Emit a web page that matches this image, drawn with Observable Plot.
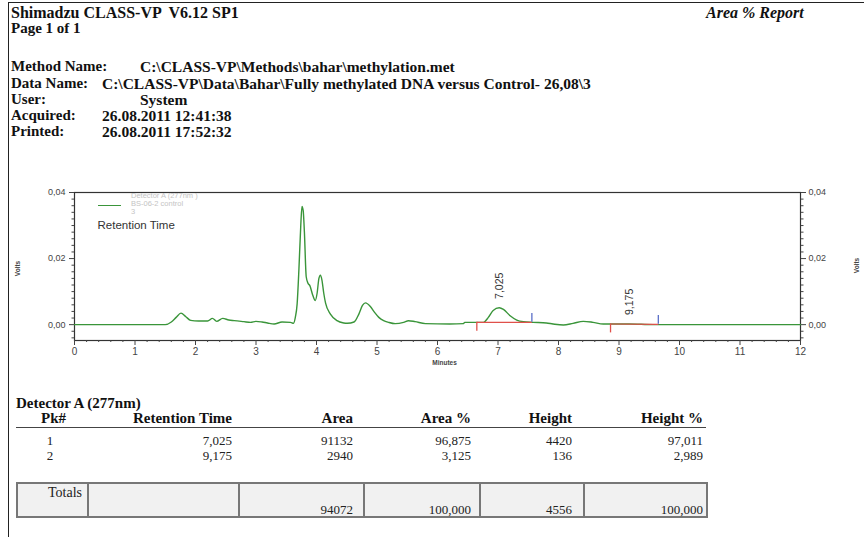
<!DOCTYPE html>
<html>
<head>
<meta charset="utf-8">
<script src="https://cdn.jsdelivr.net/npm/d3@7"></script>
<script src="https://cdn.jsdelivr.net/npm/@observablehq/plot@0.6"></script>
<style>
  body { margin: 0; background: #fff; }
  #page { position: relative; width: 864px; height: 537px; overflow: hidden; background: #fff;
          font-family: "Liberation Serif", "Times New Roman", serif; color: #111; }
  .abs { position: absolute; white-space: nowrap; line-height: 1; }
  .hd { font-weight: bold; font-size: 16px; }
  .th { font-weight: bold; font-size: 15px; }
  .tb { font-size: 13px; color: #222; }
  #chart { position: absolute; left: 0; top: 171px; }
  .legend { position: absolute; white-space: nowrap; font-family: "Liberation Sans", Arial, sans-serif; line-height: 1; }
</style>
</head>
<body>
<div id="page"></div>
<script>
// Chromatogram trace: retention time (minutes) and detector signal (volts)
const times = [0, 1.5, 1.6, 1.68, 1.76, 1.84, 1.92, 2.05, 2.2, 2.28, 2.35, 2.45, 2.55, 2.64, 2.8, 2.91, 3.0, 3.1, 3.19, 3.3,
  3.43, 3.57, 3.62, 3.65, 3.68, 3.71, 3.74, 3.76, 3.78, 3.8, 3.83, 3.86, 3.89, 3.94, 3.98, 4.01, 4.04, 4.065, 4.09, 4.12,
  4.15, 4.23, 4.34, 4.45, 4.51, 4.62, 4.7, 4.76, 4.81, 4.89, 4.96, 5.03, 5.11, 5.19, 5.3, 5.44, 5.52, 5.63, 5.8, 6.2,
  6.43, 6.45, 6.76, 6.84, 6.92, 7.02, 7.09, 7.2, 7.31, 7.42, 7.58, 7.8, 7.91, 8.08, 8.24, 8.41, 8.57, 8.74, 8.9, 9.17,
  9.56, 12];
const volts = [0, 0, 0.0008, 0.0022, 0.0035, 0.0024, 0.0013, 0.0011, 0.0011, 0.0019, 0.001, 0.0019, 0.0014, 0.0012, 0.0009, 0.0007, 0.001, 0.0008, 0.0005, 0.0002,
  0.0008, 0.0007, 0.0004, 0.0022, 0.0063, 0.017, 0.03, 0.0358, 0.0345, 0.028, 0.0145, 0.0125, 0.0118, 0.0088, 0.0073, 0.0095, 0.014, 0.015, 0.0135, 0.0095,
  0.0065, 0.0032, 0.0012, 0.0005, 0.0004, 0.0008, 0.0032, 0.0058, 0.0066, 0.0055, 0.0037, 0.0022, 0.0012, 0.0007, 0.0003, 0.0007, 0.0012, 0.0009, 0.0003, 0.0002,
  0.0003, 0.0007, 0.0007, 0.0022, 0.0043, 0.0051, 0.0046, 0.0027, 0.0014, 0.0009, 0.0007, 0.0005, 0.0002, -0.0001, 0.0004, 0.001, 0.0007, 0.0002, 0.0002, 0.0002,
  0, 0];

// Integrated peaks (Detector A, 277 nm)
const peakNo = [1, 2];
const retTimes = [7.025, 9.175];
const areas = [91132, 2940];
const areaPct = [96.875, 3.125];
const heights = [4420, 136];
const heightPct = [97.011, 2.989];

// Integration start / end points and their baseline levels
const peakStart = [6.65, 8.86];
const peakEnd = [7.56, 9.65];
const baseStartV = [0.0007, 0.0002];
const baseEndV = [0.0007, 0.0001];

// Axis ticks
const xTicks = d3.range(0, 13);
const yTicks = [0, 0.02, 0.04];

// Report header
const reportTitle = "Shimadzu CLASS-VP  V6.12 SP1";
const reportType = "Area % Report";
const pageText = "Page 1 of 1";
const metaLabels = ["Method Name:", "Data Name:", "User:", "Acquired:", "Printed:"];
const metaValues = ["C:\\CLASS-VP\\Methods\\bahar\\methylation.met",
  "C:\\CLASS-VP\\Data\\Bahar\\Fully methylated DNA versus Control- 26,08\\3",
  "System", "26.08.2011 12:41:38", "26.08.2011 17:52:32"];
const legendLines = ["Detector A (277nm )", "BS-06-2 control", "3"];
const tableTitle = "Detector A (277nm)";
const columnHeads = ["Pk#", "Retention Time", "Area", "Area %", "Height", "Height %"];

const page = document.getElementById("page");
function put(text, cls, left, top, extra = {}) {
  const d = document.createElement("div");
  d.className = "abs " + cls;
  d.textContent = text;
  d.style.left = left + "px";
  d.style.top = top + "px";
  Object.assign(d.style, extra);
  page.appendChild(d);
  return d;
}
function putRight(text, cls, right, top, extra = {}) {
  return put(text, cls, 0, top, Object.assign({ left: "auto", right: (864 - right) + "px" }, extra));
}
function box(left, top, w, h, style) {
  const d = document.createElement("div");
  d.style.position = "absolute";
  d.style.left = left + "px"; d.style.top = top + "px";
  d.style.width = w + "px"; d.style.height = h + "px";
  Object.assign(d.style, style);
  page.appendChild(d);
  return d;
}
const comma = (v, n) => v.toFixed(n).replace(".", ",");

// page frame lines
box(8, 2, 856, 0, { borderTop: "1.5px solid #222" });
box(8, 2, 0, 535, { borderLeft: "1.5px solid #222" });

// header
put(reportTitle, "hd", 11, 5, { whiteSpace: "pre" });
put(reportType, "hd", 706, 5, { fontStyle: "italic" });
put(pageText, "hd", 11, 21, { fontSize: "15px" });
const metaTop = [59, 76, 92, 108, 124];
const metaX = [140, 102, 140, 102, 102];
metaLabels.forEach((l, i) => {
  put(l, "hd", 11, metaTop[i], { fontSize: "15px" });
  put(metaValues[i], "hd", metaX[i], metaTop[i], { fontSize: "15.5px" });
});

// chromatogram
const trace = times.map((t, i) => ({ t, v: volts[i] }));
const vAt = d3.scaleLinear().domain(times).range(volts);
const peaks = retTimes.map((t, i) => ({ t, v: vAt(t), label: comma(t, 3) }));
const events = peakStart.map((s, i) => ({ s, e: peakEnd[i], vs: baseStartV[i], ve: baseEndV[i] }));
const minorX = d3.range(0, 12.001, 0.2).filter(d => Math.abs(d - Math.round(d)) > 1e-6);
const minorY = d3.range(-0.004, 0.0401, 0.002).filter(d => !yTicks.some(t => Math.abs(t - d) < 1e-9));
const yFmt = d => comma(d, 2);

const chart = Plot.plot({
  width: 864, height: 200,
  marginLeft: 74, marginRight: 64, marginTop: 21, marginBottom: 31,
  x: { domain: [0, 12], label: null },
  y: { domain: [-0.0048, 0.04], label: null },
  style: { fontFamily: "'Liberation Sans', Arial, sans-serif", fontSize: "10px", color: "#444", background: "transparent" },
  marks: [
    Plot.frame({ stroke: "#333", strokeWidth: 1.2 }),
    Plot.axisX({ ticks: xTicks, tickSize: 5, tickPadding: 2, tickFormat: d => String(d), fontSize: 10 }),
    Plot.axisX({ ticks: minorX, tickSize: 2, tickFormat: () => "" }),
    Plot.axisY({ anchor: "left", ticks: yTicks, tickSize: 5, tickPadding: 4, tickFormat: yFmt, fontSize: 9 }),
    Plot.axisY({ anchor: "left", ticks: minorY, tickSize: 2.5, tickFormat: () => "" }),
    Plot.axisY({ anchor: "right", ticks: yTicks, tickSize: 5, tickPadding: 3, tickFormat: yFmt, fontSize: 9 }),
    Plot.axisY({ anchor: "right", ticks: minorY, tickSize: 2.5, tickFormat: () => "" }),
    Plot.line(trace, { x: "t", y: "v", stroke: "#3a953a", strokeWidth: 1.4, curve: "monotone-x" }),
    // integration baselines and start/end markers
    Plot.link(events, { x1: "s", y1: "vs", x2: "e", y2: "ve", stroke: "#e0504a", strokeWidth: 1.2 }),
    Plot.ruleX(events, { x: "s", y1: "vs", y2: d => d.vs - 0.0027, stroke: "#e0504a", strokeWidth: 1.3 }),
    Plot.ruleX(events, { x: "e", y1: "ve", y2: d => d.ve + 0.0027, stroke: "#5a6fc8", strokeWidth: 1.3 }),
    // retention time labels
    Plot.text(peaks, { x: "t", y: "v", text: "label", rotate: -90, textAnchor: "start", dy: -9, fontSize: 10.5, fill: "#333" }),
    Plot.text(["Retention Time"], { frameAnchor: "top-left", dx: 23, dy: 33, fontSize: 11.5, fill: "#333", lineAnchor: "middle" }),
    Plot.text(["Minutes"], { frameAnchor: "bottom", dx: 7, dy: 22, fontSize: 6.5, fontWeight: "bold", fill: "#444", lineAnchor: "middle" }),
    Plot.text(["Volts"], { frameAnchor: "left", dx: -57, dy: 2, rotate: -90, textAnchor: "middle", fontSize: 6.5, fontWeight: "bold", fill: "#444" }),
    Plot.text(["Volts"], { frameAnchor: "right", dx: 56, dy: -1, rotate: -90, textAnchor: "middle", fontSize: 6.5, fontWeight: "bold", fill: "#444" })
  ]
});
chart.id = "chart";
page.appendChild(chart);

// legend inside plot area
box(98, 205, 23, 0, { borderTop: "1.3px solid #3a953a" });
legendLines.forEach((t, i) => {
  const d = document.createElement("div");
  d.className = "legend";
  d.textContent = t;
  d.style.left = "131px";
  d.style.top = (192 + i * 8) + "px";
  d.style.fontSize = "7.5px";
  d.style.color = "#c4c4c4";
  page.appendChild(d);
});

// peak table
put(tableTitle, "th", 16, 396);
const colRight = [null, 232, 353, 471, 572, 703];
put(columnHeads[0], "th", 41, 411);
columnHeads.slice(1).forEach((h, i) => putRight(h, "th", colRight[i + 1], 411));
box(16, 427, 690, 0, { borderTop: "1.5px solid #444" });
peakNo.forEach((p, i) => {
  const top = 434 + i * 15;
  put(String(p), "tb", 45, top, { width: "10px", textAlign: "center" });
  putRight(comma(retTimes[i], 3), "tb", colRight[1], top);
  putRight(String(areas[i]), "tb", colRight[2], top);
  putRight(comma(areaPct[i], 3), "tb", colRight[3], top);
  putRight(String(heights[i]), "tb", colRight[4], top);
  putRight(comma(heightPct[i], 3), "tb", colRight[5], top);
});

// totals row
const totalArea = d3.sum(areas);
const totalHeight = d3.sum(heights);
const totalAreaPct = d3.sum(areaPct);
const totalHeightPct = d3.sum(heightPct);
box(16, 482, 688, 32, { border: "2px solid #777", background: "#f1f1f1" });
[87, 238, 363, 479, 583].forEach(x => box(x, 482, 0, 35, { borderLeft: "2px solid #777" }));
putRight("Totals", "tb", 82, 486, { fontSize: "14px" });
putRight(String(totalArea), "tb", colRight[2], 503);
putRight(comma(totalAreaPct, 3), "tb", colRight[3], 503);
putRight(String(totalHeight), "tb", colRight[4], 503);
putRight(comma(totalHeightPct, 3), "tb", colRight[5], 503);
</script>
</body>
</html>
